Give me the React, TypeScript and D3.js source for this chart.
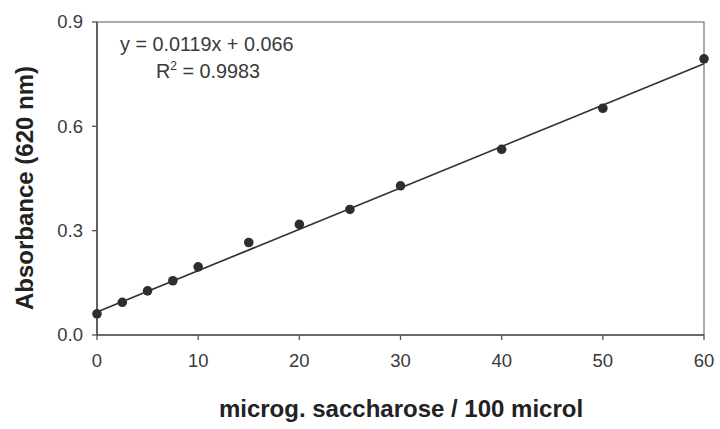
import React from "react";
import * as d3 from "d3";

const xValues = [0, 2.5, 5, 7.5, 10, 15, 20, 25, 30, 40, 50, 60];
const yValues = [0.061, 0.094, 0.127, 0.156, 0.196, 0.266, 0.318, 0.361, 0.429, 0.534, 0.652, 0.794];
const xTicks = [0, 10, 20, 30, 40, 50, 60];
const yTicks = [0.0, 0.3, 0.6, 0.9];
const slope = 0.0119;
const intercept = 0.066;
const equationText = "y = 0.0119x + 0.066";
const r2Value = "0.9983";
const xTitle = "microg. saccharose / 100 microl";
const yTitle = "Absorbance (620 nm)";

const W = 720;
const H = 429;
const m = { left: 97, top: 22, right: 704, bottom: 335 };

export default function App() {
  const x = d3.scaleLinear().domain([0, 60]).range([m.left, m.right]);
  const y = d3.scaleLinear().domain([0, 0.9]).range([m.bottom, m.top]);
  const pts = xValues.map((v, i) => [v, yValues[i]] as [number, number]);
  const fit = d3
    .line<number>()
    .x((d) => x(d))
    .y((d) => y(slope * d + intercept));
  const font = "'Liberation Sans', Arial, sans-serif";
  const axisColor = "#555";
  const textColor = "#3a3a3a";
  return (
    <svg
      width={W}
      height={H}
      style={{ position: "absolute", left: 0, top: 0, background: "#fff" }}
      fontFamily={font}
    >
      <rect x={0} y={0} width={W} height={H} fill="#fff" />
      {/* frame */}
      <rect
        x={m.left}
        y={m.top}
        width={m.right - m.left}
        height={m.bottom - m.top}
        fill="none"
        stroke="#808080"
        strokeWidth={1.3}
      />
      <line x1={m.left} x2={m.left} y1={m.top} y2={m.bottom} stroke={axisColor} strokeWidth={1.7} />
      <line x1={m.left} x2={m.right} y1={m.bottom} y2={m.bottom} stroke={axisColor} strokeWidth={1.7} />
      {/* y ticks */}
      {yTicks.map((t) => (
        <g key={"y" + t}>
          <line x1={m.left - 5} x2={m.left} y1={y(t)} y2={y(t)} stroke={axisColor} strokeWidth={1.3} />
          <text
            x={m.left - 14}
            y={y(t)}
            dy="0.35em"
            textAnchor="end"
            fontSize={18.5}
            fill={textColor}
          >
            {d3.format(".1f")(t)}
          </text>
        </g>
      ))}
      {/* x ticks */}
      {xTicks.map((t) => (
        <g key={"x" + t}>
          <line x1={x(t)} x2={x(t)} y1={m.bottom} y2={m.bottom + 5} stroke={axisColor} strokeWidth={1.3} />
          <text
            x={x(t)}
            y={m.bottom + 26}
            dy="0.35em"
            textAnchor="middle"
            fontSize={18.5}
            fill={textColor}
          >
            {t}
          </text>
        </g>
      ))}
      {/* trend line */}
      <path d={fit([0, 60]) || ""} fill="none" stroke="#333" strokeWidth={1.7} />
      {/* points */}
      {pts.map(([a, b], i) => (
        <circle key={i} cx={x(a)} cy={y(b)} r={4.8} fill="#2e2e2e" />
      ))}
      {/* equation */}
      <text x={120} y={51} fontSize={19.8} fill={textColor}>
        {equationText}
      </text>
      <text x={156} y={78} fontSize={19.8} fill={textColor}>
        R
        <tspan dy={-8} fontSize={12}>
          2
        </tspan>
        <tspan dy={8}>{" = " + r2Value}</tspan>
      </text>
      {/* axis titles */}
      <text
        x={(218 + 584) / 2}
        y={417}
        textAnchor="middle"
        fontSize={24}
        fontWeight="bold"
        fill="#222"
      >
        {xTitle}
      </text>
      <text
        transform={`translate(33, 188) rotate(-90)`}
        textAnchor="middle"
        fontSize={24}
        fontWeight="bold"
        fill="#222"
      >
        {yTitle}
      </text>
    </svg>
  );
}
